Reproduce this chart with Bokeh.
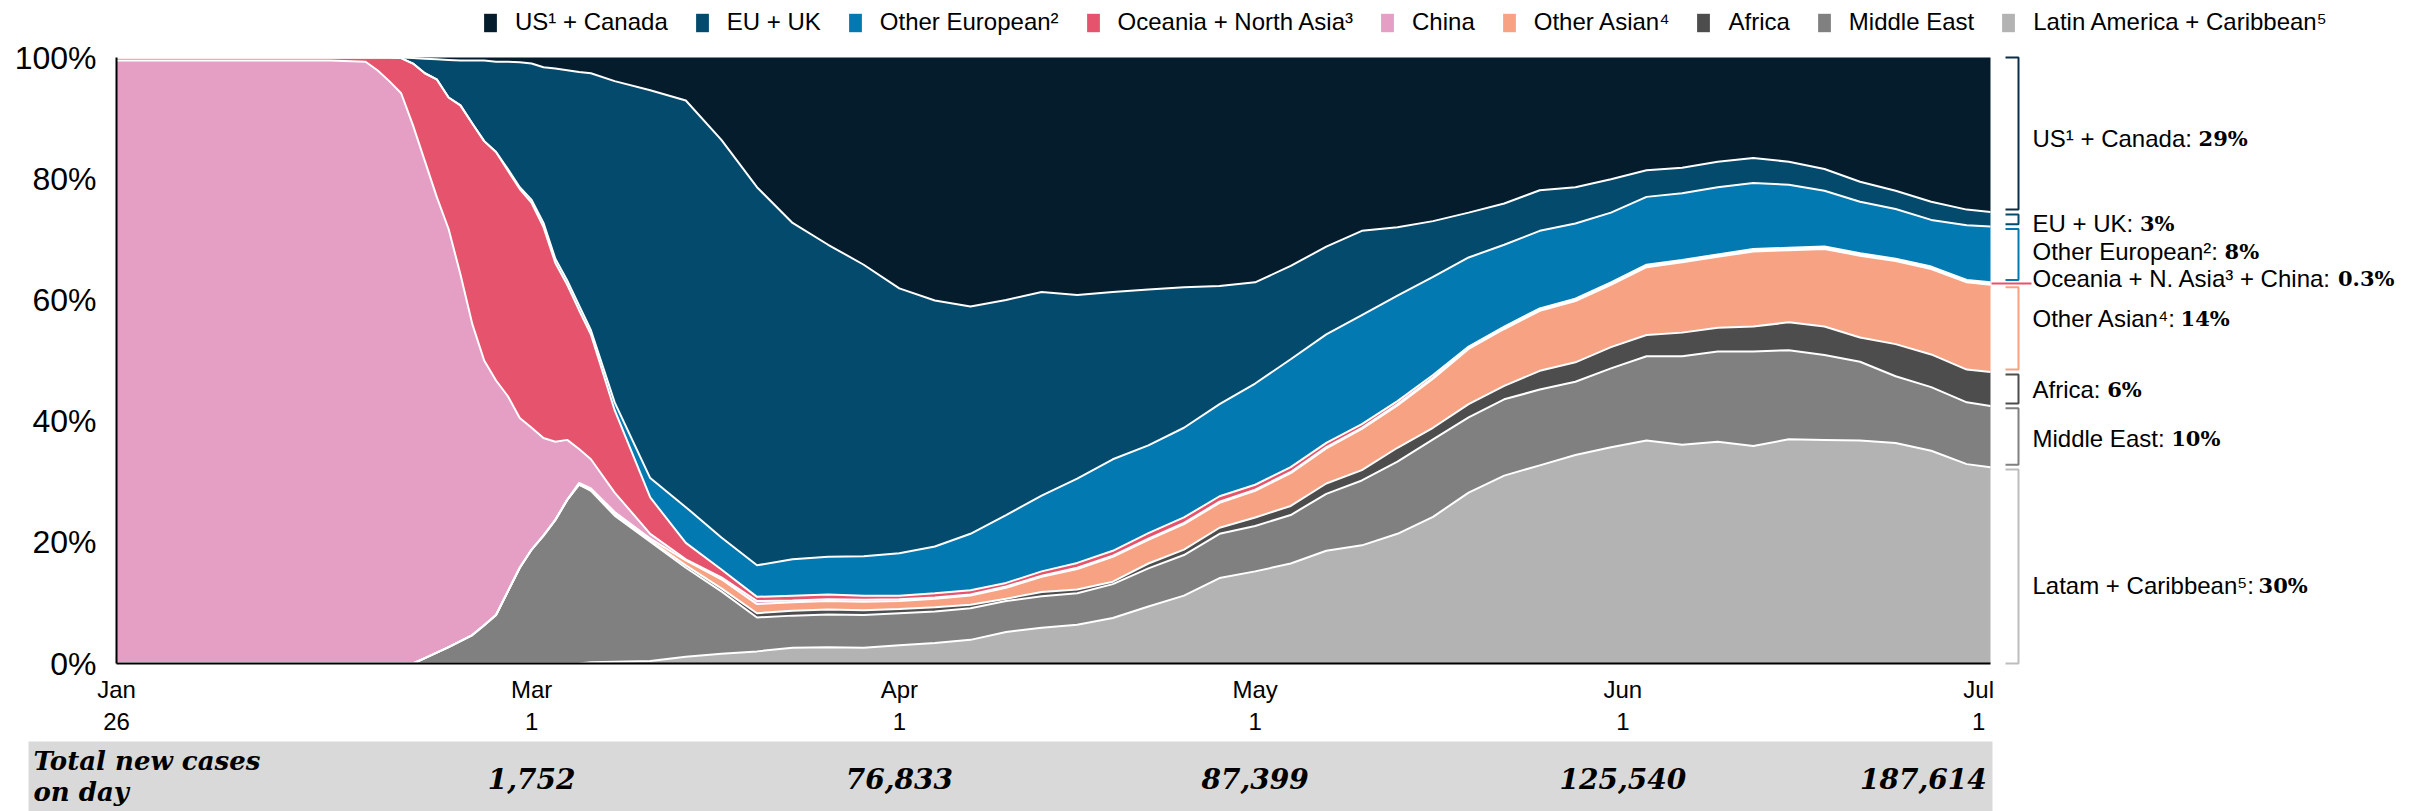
import numpy as np
from bokeh.plotting import figure
from bokeh.models import (ColumnDataSource, Range1d, FixedTicker, Legend, LegendItem,
                          NumeralTickFormatter)
from bokeh.transform import stack
from bokeh.core.properties import value
from bokeh.embed import file_html
from bokeh.resources import INLINE

# ---------------- data (share of new cases, days since Jan 26) ----------------
days = [0, 3, 6, 9, 12, 15, 18, 21, 22, 23, 24, 25, 26, 27, 28, 29, 30, 31, 32, 33,
        34, 35, 36, 37, 38, 39, 40, 42, 45, 48, 51, 54, 57, 60, 63, 66, 69, 72, 75, 78,
        81, 84, 87, 90, 93, 96, 99, 102, 105, 108, 111, 114, 117, 120, 123, 126, 129,
        132, 135, 138, 141, 144, 147, 150, 153, 156, 158]

latam = [0, 0, 0, 0, 0, 0, 0, 0, 0, 0, 0, 0, 0, 0, 0, 0, 0, 0, 0, 0,
         0, 0, 0, 0, 0, 0, .002, .003, .004, .011, .016, .020, .026, .027, .026, .030, .034, .039, .052, .059,
         .064, .075, .094, .112, .141, .152, .165, .186, .195, .214, .242, .282, .310, .327, .344, .357, .368,
         .361, .366, .359, .370, .369, .368, .364, .351, .329, .324]

middle_east = [0, 0, 0, 0, 0, 0, 0, 0, 0, 0, 0, 0, .009, .018, .027, .037, .047, .063, .080, .119,
               .158, .188, .211, .237, .270, .295, .283, .241, .197, .147, .103, .056, .053, .054, .054, .053, .052, .052, .051, .052,
               .052, .056, .063, .067, .073, .075, .080, .094, .107, .119, .128, .124, .126, .125, .121, .130, .139,
               .146, .149, .156, .147, .140, .130, .110, .105, .102, .101]

africa = [0, 0, 0, 0, 0, 0, 0, 0, 0, 0, 0, 0, 0, 0, 0, 0, 0, 0, 0, 0,
          0, 0, 0, 0, 0, 0, .002, .003, .002, .004, .005, .007, .008, .008, .008, .007, .007, .006, .004, .007,
          .006, .004, .008, .009, .010, .014, .015, .017, .017, .023, .019, .022, .022, .031, .032, .035, .035,
          .039, .039, .041, .046, .047, .040, .053, .054, .054, .056]

other_asian = [0, 0, 0, 0, 0, 0, 0, 0, 0, 0, 0, 0, 0, 0, 0, 0, 0, 0, 0, 0,
               0, 0, 0, 0, 0, .003, .002, .003, .003, .008, .015, .015, .014, .014, .014, .013, .014, .015, .018, .025,
               .034, .041, .039, .042, .041, .044, .054, .058, .068, .070, .081, .091, .094, .099, .101, .103, .112,
               .116, .117, .124, .119, .128, .135, .137, .141, .144, .144]

china = [.995, .995, .995, .995, .995, .995, .995, .993, .979, .961, .941, .888, .820, .752, .690, .605, .513, .437, .387, .322,
         .247, .201, .161, .129, .099, .056, .048, .032, .008, .002, .003, .005, .003, .003, .003, .003, .002, .002, .002, .002,
         .002, .002, .002, .002, .002, .002, .002, .002, .002, .002, .002, .002, .002, .002, .002, .002, .002,
         .002, .002, .002, .002, .002, .002, .002, .002, .002, .002]

oceania_n_asia = [.005, .005, .005, .005, .005, .005, .005, .007, .021, .039, .058, .102, .145, .194, .217, .279, .331, .362, .377, .372,
                  .378, .371, .348, .295, .256, .229, .206, .136, .060, .027, .013, .007, .008, .008, .007, .006, .007, .007, .006, .007,
                  .008, .008, .009, .009, .009, .008, .008, .007, .006, .005, .004, .002, .002, .002, .002, .002, .002,
                  .002, .002, .002, .002, .002, .002, .002, .002, .002, .002]

other_european = [0, 0, 0, 0, 0, 0, 0, 0, 0, 0, 0, 0, 0, 0, 0, 0, 0, 0, 0, .003,
                  .003, .005, .007, .007, .007, .008, .007, .013, .032, .059, .053, .052, .060, .062, .065, .070, .077, .093, .112, .125,
                  .139, .151, .145, .148, .152, .167, .178, .179, .180, .174, .162, .147, .135, .128, .124, .115, .112,
                  .110, .111, .109, .104, .092, .085, .082, .077, .090, .092]

eu_uk = [0, 0, 0, 0, 0, 0, 0, 0, 0, 0, .001, .009, .024, .033, .062, .074, .104, .133, .149, .177,
         .206, .225, .257, .314, .347, .385, .424, .530, .640, .671, .656, .624, .555, .515, .481, .437, .406, .375, .355, .336,
         .303, .276, .257, .232, .195, .167, .154, .145, .139, .113, .092, .074, .068, .067, .060, .055, .044,
         .042, .042, .041, .038, .036, .033, .030, .030, .026, .024]

us_canada = [0, 0, 0, 0, 0, 0, 0, 0, 0, 0, 0, .001, .002, .003, .004, .005, .005, .005, .007, .007,
             .008, .010, .016, .018, .021, .024, .026, .039, .054, .071, .136, .214, .273, .309, .342, .381, .401, .411, .400, .387,
             .392, .387, .383, .379, .377, .371, .344, .312, .286, .280, .270, .256, .241, .219, .214, .201, .186,
             .182, .172, .166, .172, .184, .205, .220, .238, .251, .255]

legend_labels = ["US\u00b9 + Canada", "EU + UK", "Other European\u00b2", "Oceania + North Asia\u00b3",
                 "China", "Other Asian\u2074", "Africa", "Middle East", "Latin America + Caribbean\u2075"]

tick_days = [0, 35, 66, 96, 127, 157]
tick_labels = ["Jan\n26", "Mar\n1", "Apr\n1", "May\n1", "Jun\n1", "Jul\n1"]

table_days = [35, 66, 96, 127, 157]
table_values = ["1,752", "76,833", "87,399", "125,540", "187,614"]
table_title = ["Total new cases", "on day"]

annot_names = ["US\u00b9 + Canada: ", "EU + UK: ", "Other European\u00b2: ",
               "Oceania + N. Asia\u00b3 + China: ", "Other Asian\u2074: ", "Africa: ",
               "Middle East: ", "Latam + Caribbean\u2075: "]
annot_pct = ["29%", "3%", "8%", "0.3%", "14%", "6%", "10%", "30%"]

# ---------------- layout constants (page pixels; the page has no margin) ----------------
W, H = 2417, 811
X0 = 116      # x of first day
XR = 1990     # x of last day
Y0 = 663      # y of 0 %
Y1 = 57       # y of 100 %
ppd = (XR - X0) / (days[-1] - days[0])
ppv = (Y0 - Y1)


def cx(px):
    return (px - X0) / ppd


def cy(py):
    return (Y0 - py) / ppv


keys = ["latam", "middle_east", "africa", "other_asian", "china", "oceania",
        "other_european", "eu_uk", "us_canada"]
colors = ["#b3b3b3", "#808080", "#4d4d4d", "#f8a284", "#e59ec4", "#e5546c",
          "#0379b1", "#044a6c", "#051c2c"]
series = [latam, middle_east, africa, other_asian, china, oceania_n_asia,
          other_european, eu_uk, us_canada]

src = ColumnDataSource(dict(day=days, **{k: v for k, v in zip(keys, series)}))

p = figure(width=W, height=H, output_backend="svg", toolbar_location=None,
           x_range=Range1d(cx(0), cx(W)), y_range=Range1d(cy(H), cy(0)),
           min_border_left=0, min_border_right=0, min_border_top=0, min_border_bottom=0)
p.outline_line_color = None
p.xgrid.visible = False
p.ygrid.visible = False

# table strip background
p.quad(left=cx(28), right=cx(1992), top=cy(741), bottom=cy(H), fill_color="#d9d9d9",
       line_color=None)

rends = p.varea_stack(stackers=keys, x="day", color=colors, source=src)
for i in range(len(keys) - 1):
    p.line(x="day", y=stack(*keys[:i + 1]), source=src, line_color="white", line_width=2)

# axes, pinned at day 0 / 0 %
p.xaxis.fixed_location = 0
p.yaxis.fixed_location = 0
p.xaxis.ticker = FixedTicker(ticks=tick_days)
p.xaxis.major_label_overrides = {d: l for d, l in zip(tick_days, tick_labels)}
p.xaxis.bounds = (days[0], days[-1])
p.yaxis.ticker = FixedTicker(ticks=[0, 0.2, 0.4, 0.6, 0.8, 1.0])
p.yaxis.formatter = NumeralTickFormatter(format="0%")
p.yaxis.bounds = (0, 1)
for ax in (p.xaxis, p.yaxis):
    ax.axis_line_color = "black"
    ax.axis_line_width = 2
    ax.major_tick_line_color = None
    ax.minor_tick_line_color = None
    ax.major_label_text_font = "Liberation Sans"
    ax.major_label_text_color = "black"
p.xaxis.major_label_text_font_size = "24px"
p.xaxis.major_label_text_line_height = 1.2
p.xaxis.major_label_standoff = 6
p.yaxis.major_label_text_font_size = "32px"
p.yaxis.major_label_standoff = 14

# legend
items = [LegendItem(label=lab, renderers=[r]) for lab, r in zip(legend_labels, rends[::-1])]
legend = Legend(items=items, orientation="horizontal", nrows=1, location=(482, H - 36),
                glyph_width=16, glyph_height=23, label_standoff=17, spacing=26,
                padding=0, margin=0, border_line_color=None, background_fill_alpha=0,
                label_text_font="Liberation Sans", label_text_font_size="24px",
                label_text_color="black")
p.add_layout(legend, "center")

# right-hand brackets from final shares
final = np.array([s[-1] for s in series])
cum = np.concatenate([[0], np.cumsum(final)])
groups = [(8, 9), (7, 8), (6, 7), (3, 4), (2, 3), (1, 2), (0, 1)]
inset = 0.004
bx0, bx1 = cx(2005), cx(2018)
bxs, bys = [], []
for a, b in groups:
    lo = cum[a] + (inset if a > 0 else 0)
    hi = cum[b] - (inset if b < 9 else 0)
    bxs.append([bx0, bx1, bx1, bx0])
    bys.append([hi, hi, lo, lo])
bcols = ["#0b2f48", "#044a6c", "#0379b1", "#f8a284", "#4d4d4d", "#808080", "#bdbdbd"]
p.multi_line(xs=bxs, ys=bys, line_color=bcols, line_width=2)
mid = (cum[4] + cum[6]) / 2
p.line(x=[cx(1991), cx(2031)], y=[mid, mid], line_color="#e5546c", line_width=2)

# annotation texts (regular part + bold percentage)
AR = {' ': 278, '+': 584, ':': 278, '.': 278, 'A': 667, 'C': 722, 'E': 667, 'K': 667,
      'L': 556, 'M': 833, 'N': 722, 'O': 778, 'U': 722, 'S': 667, 'a': 556, 'b': 556,
      'c': 500, 'd': 556, 'e': 556, 'f': 278, 'h': 556, 'i': 222, 'l': 222, 'm': 833,
      'n': 556, 'o': 556, 'p': 556, 'r': 333, 's': 500, 't': 278, 'u': 556,
      '\u00b9': 333, '\u00b2': 333, '\u00b3': 333, '\u2074': 333, '\u2075': 333}


def tw(s, size):
    return sum(AR.get(ch, 556) for ch in s) * size / 1000.0


label_y = [cy(py) for py in (138, 223, 251, 278, 318, 389, 438, 585)]
asrc = ColumnDataSource(dict(x=[cx(2032)] * len(annot_names), y=label_y, name=annot_names,
                             pct=annot_pct, off=[tw(s, 24) for s in annot_names]))
p.text(x="x", y="y", text="name", source=asrc, text_font=value("Liberation Sans"),
       text_font_size="24px", text_baseline="middle", text_align="left", text_color="black")
p.text(x="x", y="y", text="pct", x_offset="off", source=asrc, text_font=value("DejaVu Serif"),
       text_font_style="bold", text_font_size="21px", text_baseline="middle",
       text_align="left", text_color="black")

# table texts
p.text(x=[cx(33)] * 2, y=[cy(760), cy(791)], text=table_title,
       text_font=value("DejaVu Serif"), text_font_style="bold italic", text_font_size="26px",
       text_align="left", text_baseline="alphabetic", text_color="black")
p.text(x=table_days[:-1], y=[cy(778)] * (len(table_days) - 1), text=table_values[:-1],
       text_font=value("DejaVu Serif"), text_font_style="bold italic", text_font_size="28px",
       text_align="center", text_baseline="middle", text_color="black")
p.text(x=table_days[-1:], y=[cy(778)], text=table_values[-1:], x_offset=8,
       text_font=value("DejaVu Serif"), text_font_style="bold italic", text_font_size="28px",
       text_align="right", text_baseline="middle", text_color="black")

open("out.html", "w").write(file_html(p, INLINE))
